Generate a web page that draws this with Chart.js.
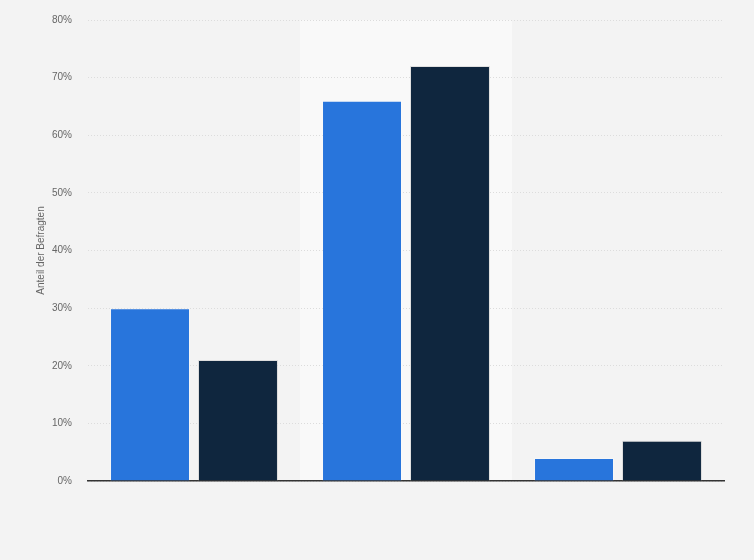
<!DOCTYPE html>
<html>
<head>
<meta charset="utf-8">
<script src="https://cdn.jsdelivr.net/npm/chart.js@4/dist/chart.umd.min.js"></script>
<style>
  html, body { margin: 0; padding: 0; background: #f3f3f3; }
  #wrap { width: 754px; height: 560px; }
</style>
</head>
<body>
<div id="wrap"><canvas id="chart" width="754" height="560"></canvas></div>
<script>
const categories = ["", " ", "  "];
const seriesA = [30, 66, 4];
const seriesB = [21, 72, 7];
const yTicks = [0, 10, 20, 30, 40, 50, 60, 70, 80];
const highlightIndex = 1;

// light band behind the hovered category
const bandPlugin = {
  id: 'band',
  beforeDraw(chart) {
    const { ctx, chartArea, scales } = chart;
    if (!chartArea) return;
    const x = scales.x;
    const w = (chartArea.right - chartArea.left) / categories.length;
    const cx = x.getPixelForValue(highlightIndex);
    ctx.save();
    ctx.fillStyle = '#f9f9f9';
    ctx.fillRect(cx - w / 2, chartArea.top, w, chartArea.bottom - chartArea.top);
    ctx.restore();
  }
};

const ctx = document.getElementById('chart').getContext('2d');
new Chart(ctx, {
  type: 'bar',
  data: {
    labels: categories,
    datasets: [
      { label: 'A', data: seriesA, backgroundColor: '#2875dc', borderColor: 'rgba(255,255,255,0.25)', borderWidth: 1 },
      { label: 'B', data: seriesB, backgroundColor: '#0f263e', borderColor: 'rgba(200,200,200,0.5)', borderWidth: 1 }
    ]
  },
  plugins: [bandPlugin],
  options: {
    responsive: false,
    animation: false,
    devicePixelRatio: 1,
    layout: { padding: { left: 35, right: 30, top: 20, bottom: 79 } },
    datasets: { bar: { categoryPercentage: 0.83, barPercentage: 0.909 } },
    plugins: { legend: { display: false }, tooltip: { enabled: false } },
    scales: {
      x: {
        grid: { display: false },
        ticks: { display: false },
        border: { display: true, color: '#333', width: 1.5 },
        afterFit: (scale) => { scale.height = 0; }
      },
      y: {
        min: 0,
        max: 80,
        afterBuildTicks: (axis) => { axis.ticks = yTicks.map(v => ({ value: v })); },
        afterFit: (scale) => { scale.width = 53; scale.paddingTop = 0; scale.paddingBottom = 0; },
        grid: { color: '#dcdcdc', lineWidth: 1, drawTicks: false },
        border: { display: false, dash: [1, 2] },
        ticks: {
          padding: 16,
          color: '#666',
          font: { family: 'Liberation Sans, Arial, sans-serif', size: 10 },
          callback: (v) => v + '%'
        },
        title: {
          display: true,
          text: 'Anteil der Befragten',
          color: '#666',
          padding: { top: 0, bottom: 0 },
          font: { family: 'Liberation Sans, Arial, sans-serif', size: 10 }
        }
      }
    }
  }
});
</script>
</body>
</html>
